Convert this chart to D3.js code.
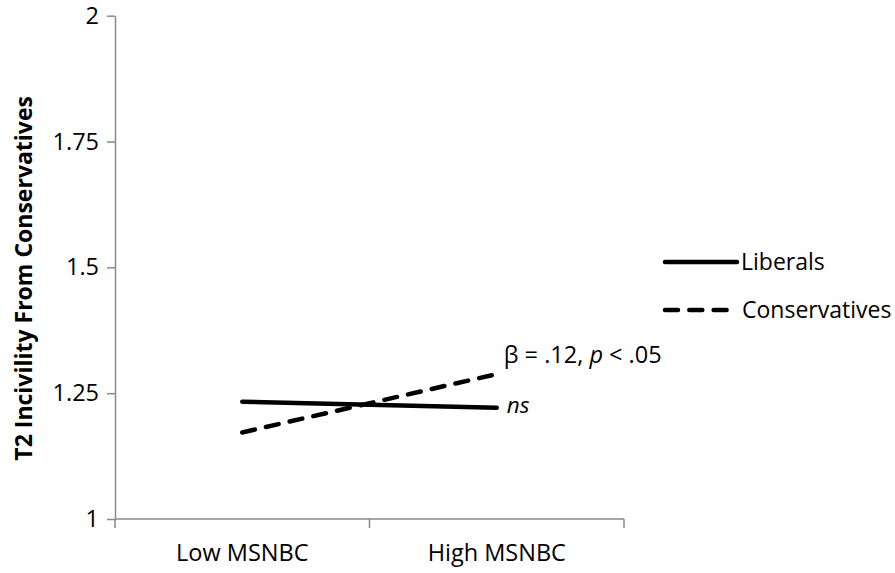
<!DOCTYPE html>
<html>
<head>
<meta charset="utf-8">
<script src="https://cdn.jsdelivr.net/npm/d3@7"></script>
<style>
    body { margin: 0; background: #fff; }
    text { font-family: "Open Sans", "Noto Sans", sans-serif; fill: #000; }
</style>
</head>
<body>
<div id="chart"></div>
<script>
// chart data
const categories = ["Low MSNBC", "High MSNBC"];
const seriesNames = ["Liberals", "Conservatives"];
const liberals = [1.233, 1.221];
const conservatives = [1.172, 1.288];
const yTicks = [1, 1.25, 1.5, 1.75, 2];
const yTickLabels = ["1", "1.25", "1.5", "1.75", "2"];
const annotations = ["ns", "β = .12, ", "p", " < .05"];

const AXIS_COLOR = "#898989";
const LINE_WIDTH = 4.5;
const DASH = "13,11.3";
const FONT_SIZE = 22.5;

const width = 895, height = 573;
const margin = { top: 15.7, right: 271, bottom: 54, left: 115 };

const svg = d3.select("#chart")
    .append("svg")
    .attr("width", width)
    .attr("height", height);

const x = d3.scaleBand()
    .domain(categories)
    .range([margin.left, width - margin.right])
    .paddingInner(0)
    .paddingOuter(0);

const y = d3.scaleLinear()
    .domain([1, 2])
    .range([height - margin.bottom, margin.top]);

// y axis
const yAxis = svg.append("g")
    .attr("transform", `translate(${margin.left},0)`)
    .call(d3.axisLeft(y)
        .tickValues(yTicks)
        .tickFormat((d, i) => yTickLabels[i])
        .tickSize(8)
        .tickSizeOuter(0)
        .tickPadding(8));
yAxis.select(".domain").attr("stroke", AXIS_COLOR).attr("stroke-width", 1.5);
yAxis.selectAll(".tick line").attr("stroke", AXIS_COLOR).attr("stroke-width", 1.5);
yAxis.selectAll(".tick text")
    .attr("font-size", 23.5)
    .attr("font-family", "Open Sans")
    .attr("fill", "#000");

// x axis: ticks sit on the band edges
const xEdges = [x.range()[0]].concat(categories.map(c => x(c) + x.bandwidth()));
const xAxis = svg.append("g")
    .attr("transform", `translate(0,${y(1)})`);
xAxis.append("line")
    .attr("x1", x.range()[0])
    .attr("x2", x.range()[1])
    .attr("stroke", AXIS_COLOR)
    .attr("stroke-width", 1.5);
xAxis.selectAll(".xtick")
    .data(xEdges)
    .enter()
    .append("line")
    .attr("class", "xtick")
    .attr("x1", d => d)
    .attr("x2", d => d)
    .attr("y1", 0)
    .attr("y2", 9)
    .attr("stroke", AXIS_COLOR)
    .attr("stroke-width", 1.5);
xAxis.selectAll(".xlabel")
    .data(categories)
    .enter()
    .append("text")
    .attr("class", "xlabel")
    .attr("x", d => x(d) + x.bandwidth() / 2)
    .attr("y", 42)
    .attr("text-anchor", "middle")
    .attr("font-size", 23.5)
    .text(d => d);

// y axis title
svg.append("text")
    .attr("transform", `translate(32,${(y(1) + y(2)) / 2 + 11}) rotate(-90)`)
    .attr("text-anchor", "middle")
    .attr("font-size", 23)
    .attr("font-weight", "bold")
    .text("T2 Incivility From Conservatives");

// lines
const line = d3.line()
    .x((d, i) => x(categories[i]) + x.bandwidth() / 2)
    .y(d => y(d));

const series = [
    { name: seriesNames[0], values: liberals, dash: null },
    { name: seriesNames[1], values: conservatives, dash: DASH },
];

svg.selectAll(".series")
    .data(series)
    .enter()
    .append("path")
    .attr("class", "series")
    .attr("d", d => line(d.values))
    .attr("fill", "none")
    .attr("stroke", "#000")
    .attr("stroke-width", LINE_WIDTH)
    .attr("stroke-linecap", "round")
    .attr("stroke-dasharray", d => d.dash);

// annotations at the end of each line
const endX = x(categories[1]) + x.bandwidth() / 2;
svg.append("text")
    .attr("x", endX + 10)
    .attr("y", y(liberals[1]) + 5)
    .attr("font-size", FONT_SIZE)
    .attr("font-style", "italic")
    .text(annotations[0]);

const betaText = svg.append("text")
    .attr("x", endX + 7)
    .attr("y", y(conservatives[1]) - 11)
    .attr("font-size", 23.5);
betaText.append("tspan").text(annotations[1]);
betaText.append("tspan").attr("font-style", "italic").text(annotations[2]);
betaText.append("tspan").text(annotations[3]);

// legend
const legend = svg.append("g")
    .attr("transform", "translate(665,262)");
const legendItem = legend.selectAll(".legend-item")
    .data(series)
    .enter()
    .append("g")
    .attr("class", "legend-item")
    .attr("transform", (d, i) => `translate(0,${i * 48})`);
legendItem.append("line")
    .attr("x1", 0)
    .attr("x2", (d, i) => i === 0 ? 72 : 66)
    .attr("stroke", "#000")
    .attr("stroke-width", LINE_WIDTH)
    .attr("stroke-linecap", "round")
    .attr("stroke-dasharray", d => d.dash);
legendItem.append("text")
    .attr("x", (d, i) => i === 0 ? 76 : 77)
    .attr("dy", "0.35em")
    .attr("font-size", 23)
    .text(d => d.name);
</script>
</body>
</html>
